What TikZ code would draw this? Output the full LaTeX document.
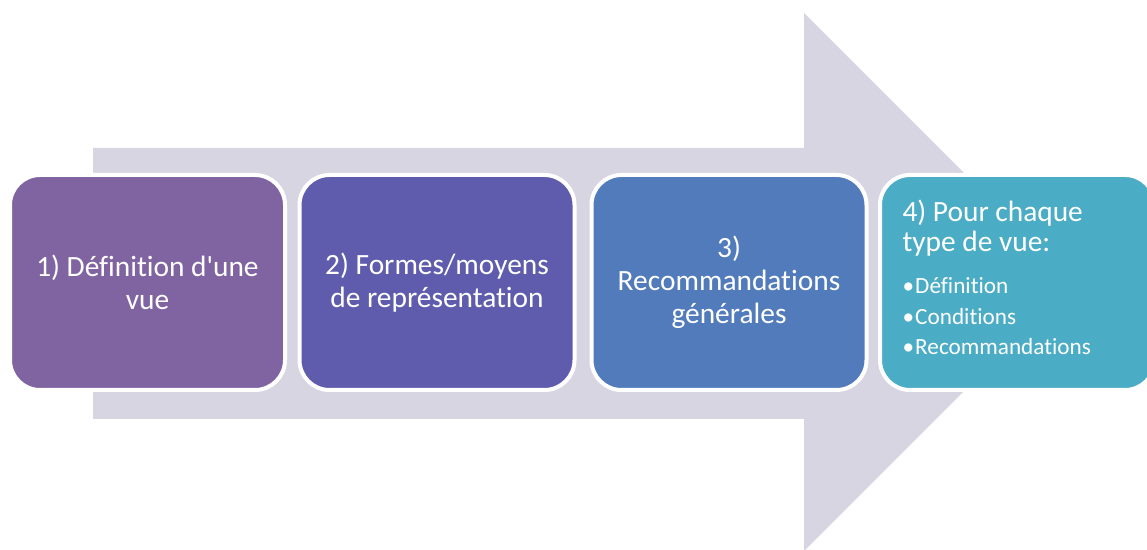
\documentclass[tikz,border=0pt]{standalone}
\usepackage{fontspec}
\defaultfontfeatures{}
\setmainfont{Carlito}[Ligatures=NoCommon]
\definecolor{flechegris}{HTML}{D8D5E3}
\definecolor{violet1}{HTML}{8064A2}
\definecolor{violet2}{HTML}{605CAD}
\definecolor{bleu3}{HTML}{517BBB}
\definecolor{turquoise4}{HTML}{4BACC6}
\newcommand{\puce}[1]{{\fontsize{11.6}{15.25}\selectfont •\hspace{0.6pt}#1}}
\begin{document}
\begin{tikzpicture}[x=0.5pt,y=-0.5pt,
	etape/.style={shape=rectangle,rounded corners=15pt,draw=white,line width=2pt,
		minimum width=137.5pt,minimum height=107.5pt,text=white,align=center,
		font=\fontsize{14.7}{16.5}\selectfont}]
		\useasboundingbox (0,0) rectangle (1147,550);

		% grande fleche de fond
		\fill[flechegris] (93,148) -- (804,148) -- (804,13) -- (1073,282) -- (804,551) -- (804,419) -- (93,419) -- cycle;

		\node[etape,fill=violet1] (A) at (147.5,282.5) {1) Définition d\textquotesingle une\\vue};
		\node[etape,fill=violet2] (B) at (437,282.5) {2) Formes/moyens\\de représentation};
		\node[etape,fill=bleu3] (C) at (729,282.5) {3)\\Recommandations\\générales};
		\node[etape,fill=turquoise4,align=flush left,text width=115pt,inner xsep=10.5pt,
			font=\fontsize{14.7}{15.25}\selectfont] (D) at (1017.5,282.5)
			{4) Pour chaque\\type de vue:\\[5.75pt]
			\puce{Définition}\\
			\puce{Conditions}\\
			\puce{Recommandations}\par\vspace{5pt}};

	\end{tikzpicture}
\end{document}
